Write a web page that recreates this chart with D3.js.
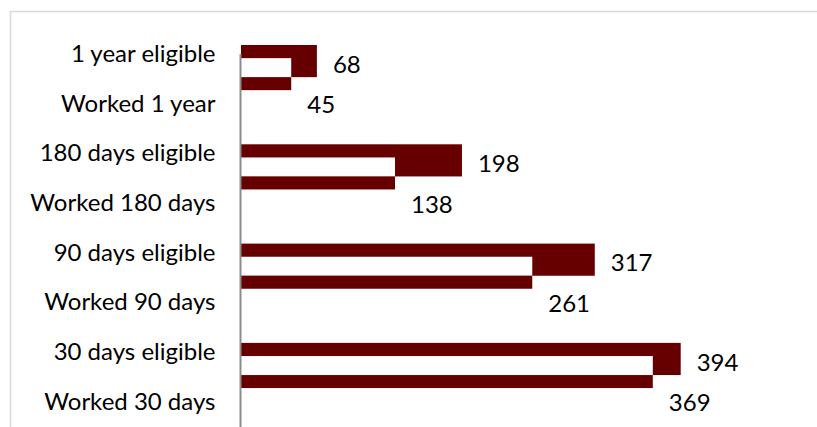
<!DOCTYPE html>
<html>
<head>
<meta charset="utf-8">
<script src="https://cdn.jsdelivr.net/npm/d3@7"></script>
<style>
  html, body { margin: 0; padding: 0; background: #ffffff; }
  svg { display: block; }
  text { font-family: Lato, "Open Sans", sans-serif; fill: #000; }
</style>
</head>
<body>
<svg id="chart" width="817" height="427"></svg>
<script>
// Rows of the chart, top to bottom: each group is an "eligible" row followed by a "worked" row
const categories = [
  "1 year eligible", "Worked 1 year",
  "180 days eligible", "Worked 180 days",
  "90 days eligible", "Worked 90 days",
  "30 days eligible", "Worked 30 days"
];
const rowKinds = ["eligible", "worked", "eligible", "worked", "eligible", "worked", "eligible", "worked"];
const values = [68, 45, 198, 138, 317, 261, 394, 369];
const xDomain = [0, 500];

const W = 817, H = 427;
const svg = d3.select("#chart");
const barColor = "#660000";
const fontSize = 24;

svg.append("rect").attr("width", W).attr("height", H).attr("fill", "#fff");

// light frame around the chart area
svg.append("path")
  .attr("d", `M10.5,${H}V11.5H${W}`)
  .attr("fill", "none")
  .attr("stroke", "#d9d9d9")
  .attr("stroke-width", 1.5);

const x = d3.scaleLinear().domain(xDomain).range([241, 799]);
const y = d3.scaleBand().domain(categories).range([29.5, 426.7]).paddingInner(0).paddingOuter(0);
const step = y.step();

const rows = categories.map((c, i) => ({ cat: c, kind: rowKinds[i], value: values[i], idx: i }));

const barH = 13;     // thickness of a worked bar
const haloH = 19;    // white gap kept above each worked bar
const workedTop = c => y(c) - 2;

const plot = svg.append("g");

rows.forEach(r => {
  if (r.kind === "eligible") {
    const next = categories[r.idx + 1];
    const top = y(r.cat) + 15.5;
    plot.append("rect")
      .attr("x", x(0)).attr("y", top)
      .attr("width", x(r.value) - x(0))
      .attr("height", workedTop(next) - top)
      .attr("fill", barColor);
  } else {
    const top = workedTop(r.cat);
    plot.append("rect")
      .attr("x", x(0)).attr("y", top - haloH)
      .attr("width", x(r.value) - x(0))
      .attr("height", haloH)
      .attr("fill", "#fff");
    plot.append("rect")
      .attr("x", x(0)).attr("y", top)
      .attr("width", x(r.value) - x(0))
      .attr("height", barH)
      .attr("fill", barColor);
  }
});

// value labels to the right of each bar; eligible values sit a little lower in their row
svg.append("g").selectAll("text")
  .data(rows)
  .join("text")
  .attr("x", d => x(d.value) + 16)
  .attr("y", d => y(d.cat) + step / 2 + (d.kind === "eligible" ? 9 : 0))
  .attr("dominant-baseline", "central")
  .attr("font-size", fontSize)
  .text(d => d.value);

// category axis
const axis = svg.append("g")
  .attr("transform", `translate(${x(0) - 0.5},0)`)
  .call(d3.axisLeft(y).tickSize(0).tickPadding(25));
axis.select(".domain").remove();
axis.selectAll("text")
  .attr("font-size", fontSize)
  .attr("font-family", "Lato, 'Open Sans', sans-serif")
  .attr("fill", "#000");

svg.append("line")
  .attr("x1", x(0) - 0.5).attr("x2", x(0) - 0.5)
  .attr("y1", y(categories[0]) + step / 2).attr("y2", H)
  .attr("stroke", "#8c8c8c")
  .attr("stroke-width", 2);
</script>
</body>
</html>
